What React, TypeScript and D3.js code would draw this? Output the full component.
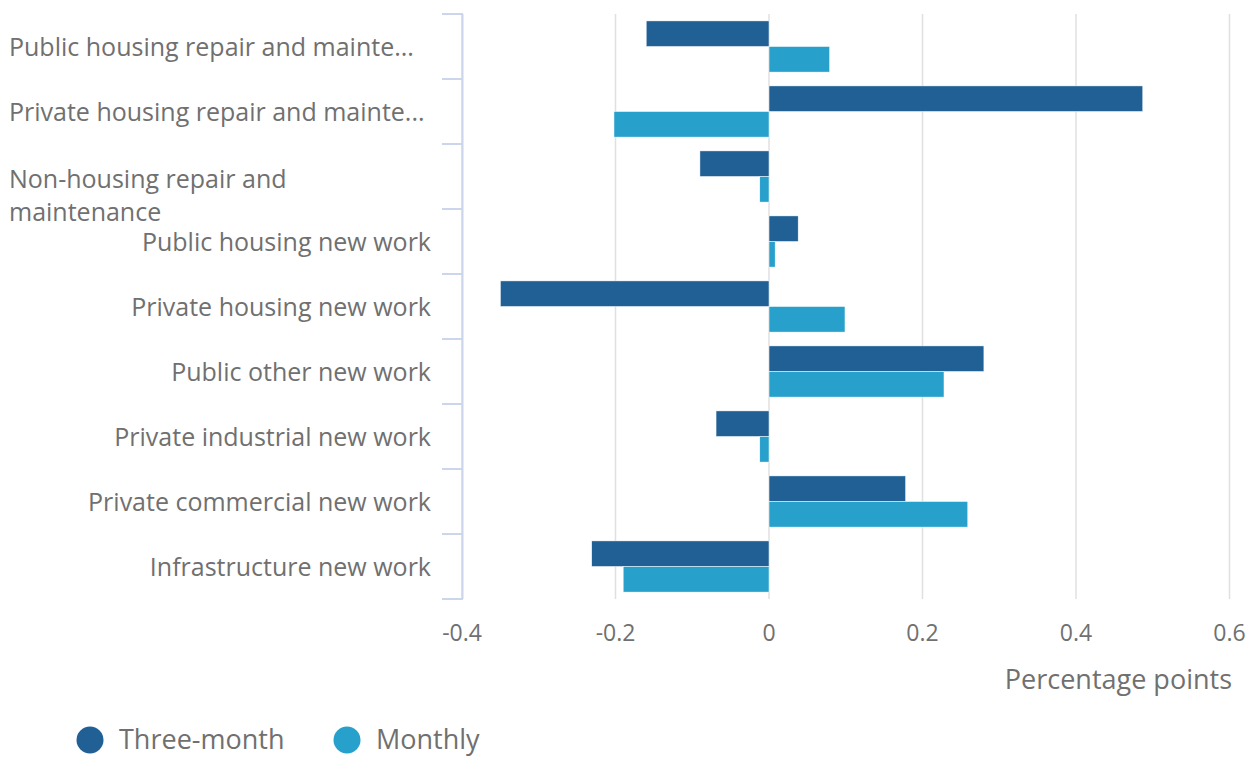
import * as d3 from "d3";
import { useRef, useEffect } from "react";

const categories = [
  "Public housing repair and maintenance",
  "Private housing repair and maintenance",
  "Non-housing repair and maintenance",
  "Public housing new work",
  "Private housing new work",
  "Public other new work",
  "Private industrial new work",
  "Private commercial new work",
  "Infrastructure new work",
];

// label text as shown (truncated / wrapped)
const labelLines = [
  ["Public housing repair and mainte..."],
  ["Private housing repair and mainte..."],
  ["Non-housing repair and", "maintenance"],
  ["Public housing new work"],
  ["Private housing new work"],
  ["Public other new work"],
  ["Private industrial new work"],
  ["Private commercial new work"],
  ["Infrastructure new work"],
];

const threeMonth = [-0.16, 0.487, -0.09, 0.038, -0.35, 0.28, -0.069, 0.178, -0.231];
const monthly = [0.079, -0.202, -0.012, 0.008, 0.099, 0.228, -0.012, 0.259, -0.19];

const seriesNames = ["Three-month", "Monthly"];
const xTicks = [-0.4, -0.2, 0, 0.2, 0.4, 0.6];

const App = () => {
  const ref = useRef<SVGSVGElement>(null);

  useEffect(() => {
    const svg = d3.select(ref.current);
    svg.selectAll("*").remove();

    const font = "'Open Sans', sans-serif";
    const textColor = "#707070";
    const colors = ["#206095", "#27a0cc"];

    const x = d3.scaleLinear().domain([-0.4, 0.6]).range([462, 1229.5]);
    const y = d3.scaleBand().domain(categories).range([14, 599]);
    const inner = d3
      .scaleBand()
      .domain(seriesNames)
      .range([0, y.bandwidth()])
      .paddingOuter(0.27);

    // gridlines
    svg
      .append("g")
      .selectAll("line")
      .data(xTicks)
      .join("line")
      .attr("x1", (d) => x(d))
      .attr("x2", (d) => x(d))
      .attr("y1", 14)
      .attr("y2", 599)
      .attr("stroke", "#e0e0e0")
      .attr("stroke-width", 1.5);

    // bars
    const rows = categories.map((c, i) => ({ c, vals: [threeMonth[i], monthly[i]] }));
    const g = svg.append("g");
    rows.forEach((r) => {
      g.selectAll(null)
        .data(r.vals)
        .join("rect")
        .attr("x", (d) => x(Math.min(0, d)))
        .attr("width", (d) => Math.abs(x(d) - x(0)))
        .attr("y", (_, j) => y(r.c)! + inner(seriesNames[j])!)
        .attr("height", inner.bandwidth())
        .attr("fill", (_, j) => colors[j])
        .attr("stroke", "#fff")
        .attr("stroke-width", 0.5);
    });

    // y axis line and ticks
    const axisColor = "#ccd6eb";
    svg
      .append("line")
      .attr("x1", 462.5)
      .attr("x2", 462.5)
      .attr("y1", 14)
      .attr("y2", 599)
      .attr("stroke", axisColor)
      .attr("stroke-width", 2);
    const yTicks = categories.map((c) => y(c)!).concat([599]);
    svg
      .append("g")
      .selectAll("line")
      .data(yTicks)
      .join("line")
      .attr("x1", 442)
      .attr("x2", 463)
      .attr("y1", (d) => d)
      .attr("y2", (d) => d)
      .attr("stroke", axisColor)
      .attr("stroke-width", 2);

    // y labels
    const lg = svg.append("g").attr("font-family", font).attr("font-size", 25).attr("fill", textColor);
    labelLines.forEach((lines, i) => {
      const cy = y(categories[i])! + y.bandwidth() / 2;
      if (lines.length === 1) {
        lg.append("text")
          .attr("x", i < 2 ? 9 : 431)
          .attr("y", cy + 1)
          .attr("dy", "0.35em")
          .attr("text-anchor", i < 2 ? "start" : "end")
          .text(lines[0]);
      } else {
        lines.forEach((l, k) => {
          lg.append("text")
            .attr("x", 9)
            .attr("y", cy + 19 + (k - (lines.length - 1) / 2) * 33)
            .attr("dy", "0.35em")
            .text(l);
        });
      }
    });

    // x tick labels
    svg
      .append("g")
      .selectAll("text")
      .data(xTicks)
      .join("text")
      .attr("x", (d) => x(d))
      .attr("y", 633)
      .attr("dy", "0.35em")
      .attr("text-anchor", "middle")
      .attr("font-family", font)
      .attr("font-size", 23)
      .attr("fill", textColor)
      .text((d) => String(d));

    svg
      .append("text")
      .attr("x", 1232)
      .attr("y", 680)
      .attr("dy", "0.35em")
      .attr("text-anchor", "end")
      .attr("font-family", font)
      .attr("font-size", 27)
      .attr("fill", textColor)
      .text("Percentage points");

    // legend
    const legX = [90, 347];
    seriesNames.forEach((s, i) => {
      svg
        .append("circle")
        .attr("cx", legX[i])
        .attr("cy", 740)
        .attr("r", 13.5)
        .attr("fill", colors[i]);
      svg
        .append("text")
        .attr("x", legX[i] + 29)
        .attr("y", 740)
        .attr("dy", "0.35em")
        .attr("font-family", font)
        .attr("font-size", 27)
        .attr("fill", textColor)
        .text(s);
    });
  }, []);

  return (
    <svg
      ref={ref}
      width={1260}
      height={758}
      style={{ position: "absolute", left: 0, top: 0, background: "#fff" }}
    />
  );
};

export default App;
